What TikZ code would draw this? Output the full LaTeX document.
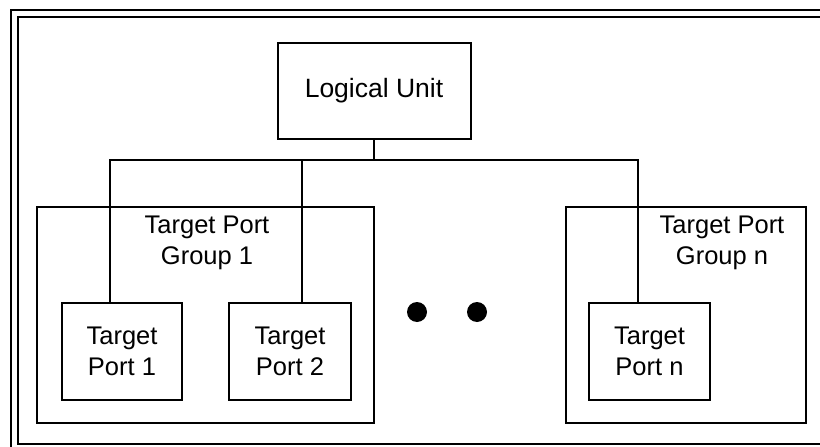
\documentclass[tikz,border=0pt]{standalone}
\usepackage{fontspec}
\setmainfont{Liberation Sans}
\begin{document}
\begin{tikzpicture}[x=1pt,y=-1pt,
  box/.style={draw,line width=2pt,rectangle,inner sep=0pt,align=center,font=\fontsize{25.5}{31}\selectfont},
  conn/.style={line width=1.6pt},
  frame/.style={line width=2pt},
  lbl/.style={align=center,inner sep=0pt,font=\fontsize{25.5}{31}\selectfont},
  dotn/.style={circle,fill=black,inner sep=0pt,minimum size=20pt}]
\useasboundingbox (0,0) rectangle (820,447);
\clip (0,0) rectangle (820,447);
% frames
\draw[frame] (11,10) rectangle (840,470);
\draw[frame] (17.5,16.5) rectangle (830,444);
% nodes
\node[box,minimum width=193pt,minimum height=96pt,font=\fontsize{26.5}{31}\selectfont] (lu) at (374,91) {Logical Unit};
\node[box,minimum width=337pt,minimum height=216pt] (tpg1) at (205.5,315) {};
\node[box,minimum width=240pt,minimum height=216pt] (tpgn) at (686,315) {};
\node[lbl] (g1lbl) at (207,243) {Target Port\\Group 1};
\node[lbl] (gnlbl) at (722,243) {Target Port\\Group n};
\node[box,minimum width=120pt,minimum height=97pt] (tp1) at (122,351.5) {Target\\Port 1};
\node[box,minimum width=122pt,minimum height=97pt] (tp2) at (290,351.5) {Target\\Port 2};
\node[box,minimum width=121pt,minimum height=97pt] (tpn) at (649.5,351.5) {Target\\Port n};
\node[dotn] (d1) at (417,312) {};
\node[dotn] (d2) at (477,312) {};
% connectors
\coordinate (bus) at ([yshift=-20pt]lu.south);
\coordinate (a1) at ([xshift=-12pt]tp1.north);
\coordinate (a2) at ([xshift=12pt]tp2.north);
\coordinate (an) at ([xshift=-11.5pt]tpn.north);
\draw[conn] (lu.south) -- (bus);
\draw[conn] (a1) |- (bus) -| (an);
\draw[conn] (a2) -- (a2 |- bus);
\end{tikzpicture}
\end{document}
